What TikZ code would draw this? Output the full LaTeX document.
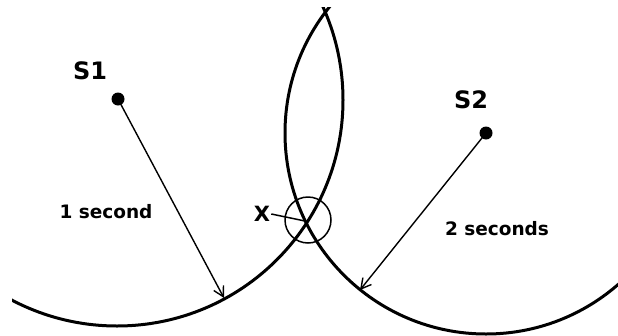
\documentclass[tikz,border=0pt]{standalone}
\usepackage{fontspec}
\setmainfont{DejaVu Sans}
\usetikzlibrary{arrows.meta}
\begin{document}
\begin{tikzpicture}[x=1pt,y=-1pt,
  wave/.style={line width=3pt},
  ray/.style={line width=1.4pt,-{Straight Barb[length=10pt,width=11pt,line width=1.4pt]}},
  src/.style={circle,fill=black,inner sep=0pt,minimum size=13pt},
  big/.style={font=\bfseries\fontsize{24}{28}\selectfont},
  lbl/.style={font=\bfseries\fontsize{18.5}{22}\selectfont}]
\useasboundingbox (0,0) rectangle (618,335);
\begin{scope}
\clip (12,7) rectangle (618,335);
\draw[wave] (117,100) circle[radius=226pt];
\draw[wave] (486,133) circle[radius=201pt];
\end{scope}
\node[src] (s1) at (118,99) {};
\node[src] (s2) at (486,133) {};
\node[big] (t1) at (90,71) {S1};
\node[big] (t2) at (471,100) {S2};
\node[lbl] (l1) at (106,212) {1 second};
\node[lbl] (l2) at (497,229) {2 seconds};
\node[font=\bfseries\fontsize{21}{24}\selectfont,inner sep=1pt] (x) at (262,214) {X};
\coordinate (e1) at (224,298);
\coordinate (e2) at (360,290);
\coordinate (xp) at (305,221);
\draw[ray] (s1.center) -- (e1);
\draw[ray] (s2.center) -- (e2);
\draw[line width=1.5pt] (x.east) -- (xp);
\node[draw,circle,line width=1.5pt,minimum size=46pt,inner sep=0pt] (ring) at (308,220) {};
\end{tikzpicture}
\end{document}
